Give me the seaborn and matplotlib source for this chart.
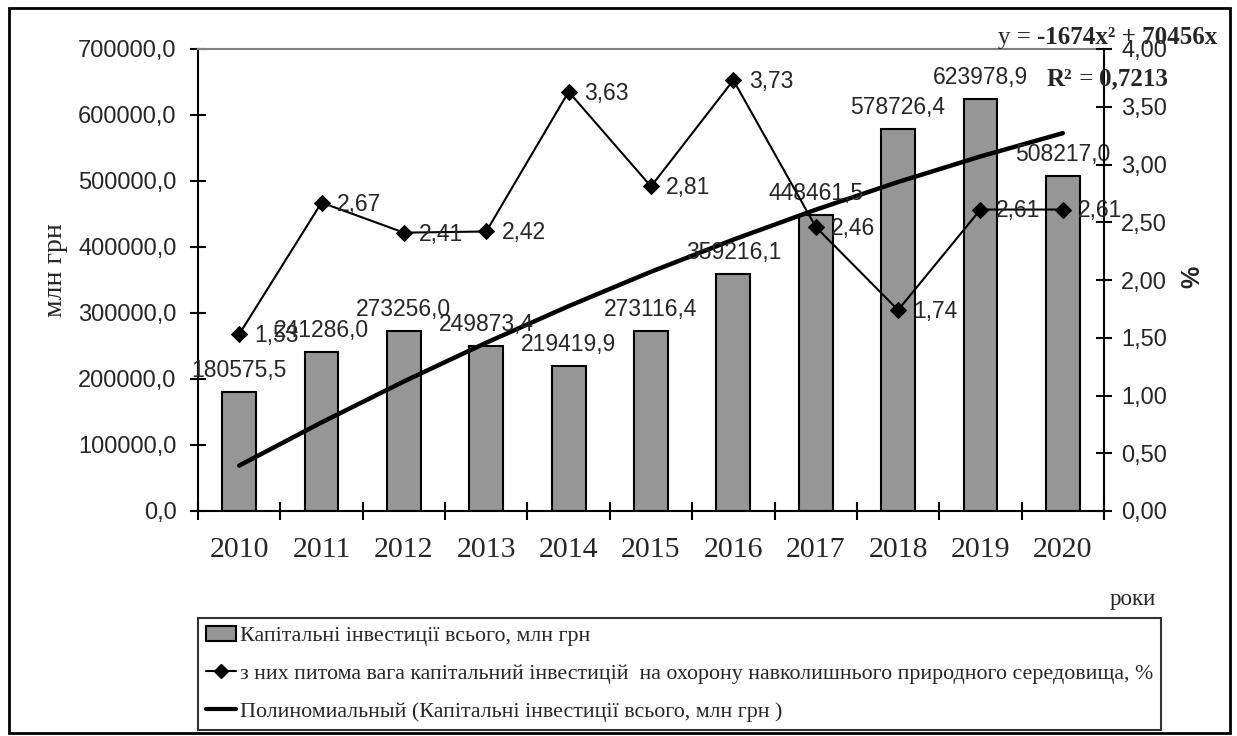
import matplotlib
matplotlib.use("Agg")
import matplotlib.pyplot as plt
import seaborn as sns
import pandas as pd
import numpy as np
from matplotlib.patches import Rectangle, Patch
from matplotlib.lines import Line2D

# ---------------- data ----------------
years = [2010, 2011, 2012, 2013, 2014, 2015, 2016, 2017, 2018, 2019, 2020]
investments = [180575.5, 241286.0, 273256.0, 249873.4, 219419.9, 273116.4,
               359216.1, 448461.5, 578726.4, 623978.9, 508217.0]
eco_share = [1.53, 2.67, 2.41, 2.42, 3.63, 2.81, 3.73, 2.46, 1.74, 2.61, 2.61]
trend = [68800, 134200, 196300, 255000, 310400, 362500, 411200, 456500,
         498500, 537200, 572500]
left_ticks = [0, 100000, 200000, 300000, 400000, 500000, 600000, 700000]
right_ticks = [0.0, 0.5, 1.0, 1.5, 2.0, 2.5, 3.0, 3.5, 4.0]

bar_name = "Капітальні інвестиції всього, млн грн"
line_name = "з них питома вага капітальний інвестицій  на охорону навколишнього природного середовища, %"
trend_name = "Полиномиальный (Капітальні інвестиції всього, млн грн )"

sns.set_theme(style="white")
plt.rcParams['font.family'] = ['Liberation Sans', 'DejaVu Sans']
SERIF = ['Liberation Serif', 'DejaVu Serif']

W, H = 1237, 736
fig = plt.figure(figsize=(W / 100, H / 100), dpi=100)
L, R, T, B = 198, 1104, 49, 511
ax = fig.add_axes([L / W, 1 - B / H, (R - L) / W, (B - T) / H])

df = pd.DataFrame({"year": [str(y) for y in years], "inv": investments})
sns.barplot(data=df, x="year", y="inv", color="#969696", saturation=1,
            width=0.41, edgecolor="black", linewidth=1.5, ax=ax, zorder=2)

xpos = np.arange(len(years))
sns.lineplot(x=xpos, y=trend, ax=ax, color="black", linewidth=3.2, zorder=3)

ax.set_xlim(-0.5, len(years) - 0.5)
ax.set_ylim(0, 700000)
ax.set_yticks(left_ticks)
ax.set_yticklabels([f"{v:.1f}".replace(".", ",") for v in left_ticks])
ax.set_xticks(xpos)
ax.set_xticklabels([str(y) for y in years], fontfamily=SERIF, fontsize=21.5)
ax.set_xticks(np.arange(-0.5, len(years), 1), minor=True)
ax.tick_params(axis="x", which="major", length=0, pad=19)
ax.tick_params(axis="x", which="minor", direction="inout", length=13, width=1.5,
               color="black", bottom=True)
ax.tick_params(axis="y", direction="inout", length=11, width=1.5, color="black",
               labelsize=17, pad=10, left=True)
ax.set_xlabel("")
ax.set_ylabel("")
ax.grid(False)
for s in ["left", "bottom"]:
    ax.spines[s].set_color("black")
    ax.spines[s].set_linewidth(1.5)
ax.spines["top"].set_color("#808080")
ax.spines["top"].set_linewidth(1.5)
ax.spines["right"].set_visible(False)

for i, v in enumerate(investments):
    ax.annotate(f"{v:.1f}".replace(".", ","), (i, v), xytext=(0, 7),
                textcoords="offset points", ha="center", va="bottom",
                fontsize=16.5, zorder=5)

ax2 = ax.twinx()
sns.lineplot(x=xpos, y=eco_share, ax=ax2, color="black", linewidth=1.5,
             marker="D", markersize=8, markeredgecolor="black", zorder=4)
ax2.set_ylim(0, 4)
ax2.set_yticks(right_ticks)
ax2.set_yticklabels([f"{v:.2f}".replace(".", ",") for v in right_ticks])
ax2.tick_params(axis="y", direction="inout", length=11, width=1.5, color="black",
                labelsize=17, pad=7, right=True)
ax2.set_ylabel("")
ax2.grid(False)
for s in ["left", "top", "bottom"]:
    ax2.spines[s].set_visible(False)
ax2.spines["right"].set_color("black")
ax2.spines["right"].set_linewidth(1.5)
for i, v in enumerate(eco_share):
    ax2.annotate(f"{v:.2f}".replace(".", ","), (i, v), xytext=(11, -1),
                 textcoords="offset points", ha="left", va="center",
                 fontsize=16.5, zorder=5)

# axis titles
fig.text(55 / W, 1 - 270 / H, "млн грн", rotation=90, ha="center", va="center",
         fontfamily=SERIF, fontsize=20)
fig.text(1192 / W, 1 - 277 / H, "%", rotation=90, ha="center", va="center",
         fontsize=18, fontweight="bold")
fig.text(1133 / W, 1 - 600 / H, "роки", ha="center", va="center",
         fontfamily=SERIF, fontsize=16.5)

# trendline equation
t1 = fig.text(998 / W, 1 - 38 / H, "y = ", ha="left", va="center",
              fontfamily=SERIF, fontsize=18)
a1 = ax2.annotate("-1674x² + 70456x", xy=(1, 0), xycoords=t1, ha="left",
                  va="bottom", fontfamily=SERIF, fontsize=18, fontweight="bold",
                  annotation_clip=False)
r1 = fig.text(1047 / W, 1 - 79 / H, "R²", ha="left", va="center",
              fontfamily=SERIF, fontsize=18, fontweight="bold")
r2 = ax2.annotate(" = ", xy=(1, 0), xycoords=r1, ha="left", va="bottom",
                  fontfamily=SERIF, fontsize=18, annotation_clip=False)
r3 = ax2.annotate("0,7213", xy=(1, 0), xycoords=r2, ha="left", va="bottom",
                  fontfamily=SERIF, fontsize=18, fontweight="bold",
                  annotation_clip=False)

# legend
handles = [
    Patch(facecolor="#969696", edgecolor="black", linewidth=1.5),
    Line2D([], [], color="black", linewidth=1.5, marker="D", markersize=7),
    Line2D([], [], color="black", linewidth=3),
]
leg = fig.legend(handles, [bar_name, line_name, trend_name], loc="upper left",
                 bbox_to_anchor=(L / W, 1 - 618 / H), borderaxespad=0,
                 frameon=True, fancybox=False, edgecolor="black",
                 prop={"family": SERIF, "size": 15.8}, handlelength=1.4,
                 handletextpad=0.15, labelspacing=0.8, borderpad=0.35)
leg.get_frame().set_linewidth(1.5)

# outer border
fig.add_artist(Rectangle((9 / W, 3 / H), (1230 - 9) / W, (733 - 8) / H,
                         transform=fig.transFigure, fill=False,
                         edgecolor="black", linewidth=2))

fig.savefig("out.png", dpi=100)
